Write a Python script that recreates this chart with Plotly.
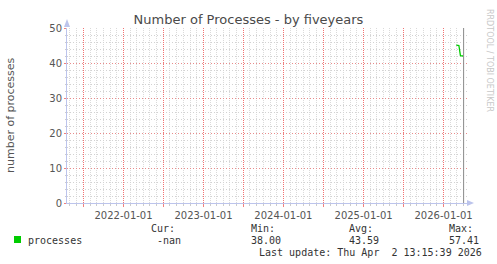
import plotly.graph_objects as go
import pandas as pd

# ---- data ----
dates = ["2026-02-28", "2026-03-12", "2026-03-19", "2026-03-31"]
processes = [45.1, 45.0, 42.1, 42.0]

x_range = ["2021-04-18", "2026-04-18"]
y_range = [0, 50]
hidden_labels = ["2021-07-01", "2022-07-01", "2023-07-01", "2024-07-01", "2025-07-01"]
now = "2026-04-02 13:15:39"

stat_labels = ["Cur:", "Min:", "Avg:", "Max:"]
stat_values = ["-nan", "38.00", "43.59", "57.41"]
series_name = "processes"
last_update = "Last update: Thu Apr  2 13:15:39 2026"

W, H = 497, 264
L, R, T, B = 67, 467, 28, 203  # plot area in pixels

def px(x):
    return (x - L) / (R - L)

def py(y):
    return (B - y) / (B - T)

AXIS = "#BCC4EC"
TXT = "#555555"
MONO = "DejaVu Sans Mono"
MAJ = "#E88C8C"
MIN = "#D2D2D2"
DASH = "1px,2px"

# monthly minor grid positions, skipping the half-year major positions
months = pd.date_range("2021-05-01", "2026-04-01", freq="MS")
minor_vals = [d.strftime("%Y-%m-%d") for d in months if d.month not in (1, 7)]

fig = go.Figure()
fig.add_trace(go.Scatter(x=dates, y=processes, mode="lines",
                         line=dict(color="#00CC00", width=1.3),
                         showlegend=False, hoverinfo="skip"))

fig.update_layout(
    width=W, height=H,
    margin=dict(l=L, r=W - R, t=T, b=H - B),
    paper_bgcolor="white", plot_bgcolor="white",
    showlegend=False,
    font=dict(family="DejaVu Sans", size=10, color=TXT),
    title=dict(text="Number of Processes - by fiveyears", x=0.5, xanchor="center",
               y=1 - 19 / H, yanchor="middle",
               font=dict(family="DejaVu Sans", size=13, color="#4a4a4a")),
)

fig.update_xaxes(
    type="date", range=x_range,
    tick0="2021-07-01", dtick="M6", tickformat="%Y-%m-%d",
    labelalias={d: " " for d in hidden_labels},
    showgrid=True, gridcolor="#F27272", griddash="1px,1px", gridwidth=1,
    ticks="outside", ticklen=3, tickcolor="#F08080",
    tickfont=dict(family="DejaVu Sans", size=10, color=TXT),
    showline=True, linecolor=AXIS, linewidth=1,
    zeroline=False,
    minor=dict(tickmode="array", tickvals=minor_vals, showgrid=True, gridcolor="#DADADA",
               griddash="1px,1px", ticks="outside", ticklen=2, tickcolor="#CCCCCC"),
)
fig.update_yaxes(
    range=y_range, dtick=10, tick0=0,
    showgrid=True, gridcolor=MAJ, griddash=DASH, gridwidth=1,
    ticks="outside", ticklen=2, tickcolor="#F08080",
    tickfont=dict(family="DejaVu Sans", size=10, color=TXT),
    showline=True, linecolor=AXIS, linewidth=1,
    zeroline=False,
    minor=dict(dtick=2, showgrid=True, gridcolor=MIN, griddash=DASH,
               ticks="outside", ticklen=1, tickcolor="#CCCCCC"),
)

shapes = []
shapes.append(dict(type="line", xref="x", yref="paper", x0=now, x1=now, y0=0, y1=1,
                   line=dict(color="#8c8c8c", width=1)))
shapes.append(dict(type="path", xref="paper", yref="paper",
                   path=f"M {px(64)} {py(27)} L {px(70)} {py(27)} L {px(67)} {py(19)} Z",
                   fillcolor=AXIS, line=dict(width=0)))
shapes.append(dict(type="path", xref="paper", yref="paper",
                   path=f"M {px(467)} {py(200)} L {px(467)} {py(206)} L {px(474)} {py(203)} Z",
                   fillcolor=AXIS, line=dict(width=0)))
shapes.append(dict(type="rect", xref="paper", yref="paper",
                   x0=px(14), x1=px(21), y0=py(243), y1=py(236),
                   fillcolor="#00CC00", line=dict(width=0)))
fig.update_layout(shapes=shapes)

ann = []
def text(x, y, s, anchor="left", size=10, family=MONO, color="#333333", angle=0):
    ann.append(dict(xref="paper", yref="paper", x=px(x), y=py(y), text=s,
                    showarrow=False, xanchor=anchor, yanchor="middle", textangle=angle,
                    font=dict(family=family, size=size, color=color)))

label_x = [149, 249, 347, 447]
value_x = [155, 249, 347, 447]
for x, lab in zip(label_x, stat_labels):
    text(x, 228, lab)
for x, val in zip(value_x, stat_values):
    text(x, 240, val)
text(26, 240, series_name)
text(484, 252, last_update, anchor="right")
text(490, 60, "RRDTOOL / TOBI OETIKER", anchor="center", size=8,
     family="DejaVu Sans", color="#C8C8C8", angle=90)
text(10, 115, "number of processes", anchor="center", size=11,
     family="DejaVu Sans", color=TXT, angle=-90)
fig.update_layout(annotations=ann)

fig.write_html("out.html")
